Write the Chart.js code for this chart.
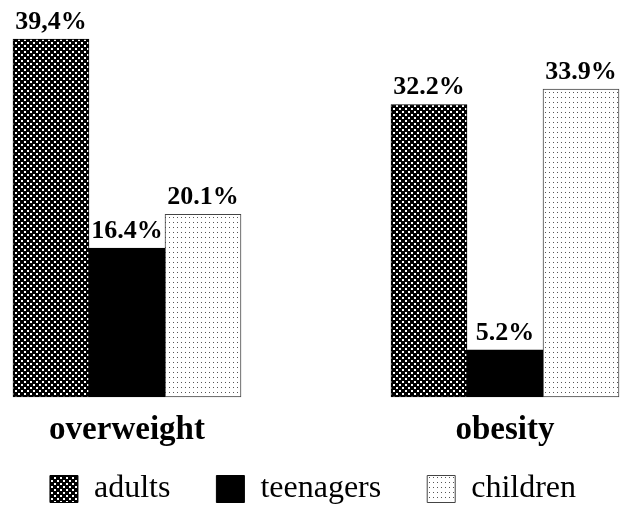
<!DOCTYPE html>
<html>
<head>
<meta charset="utf-8">
<script src="https://cdn.jsdelivr.net/npm/chart.js@4/dist/chart.umd.min.js"></script>
<style>
  html, body { margin: 0; padding: 0; background: #fff; }
  #c { display: block; }
</style>
</head>
<body>
<canvas id="c" width="626" height="515"></canvas>
<script>
// ---- data ----
const categories = ['overweight', 'obesity'];
const seriesNames = ['adults', 'teenagers', 'children'];
const adultsValues = [39.4, 32.2];
const teenagersValues = [16.4, 5.2];
const childrenValues = [20.1, 33.9];
const adultsLabels = ['39,4%', '32.2%'];
const teenagersLabels = ['16.4%', '5.2%'];
const childrenLabels = ['20.1%', '33.9%'];

// ---- patterns ----
function makePattern(w, h, draw) {
  const c = document.createElement('canvas');
  c.width = w; c.height = h;
  const g = c.getContext('2d');
  draw(g);
  return g.createPattern(c, 'repeat');
}
const checkerPattern = makePattern(6, 6, g => {
  g.fillStyle = '#000000'; g.fillRect(0, 0, 6, 6);
  g.fillStyle = '#ffffff'; g.fillRect(3, 0, 2, 2); g.fillRect(0, 3, 2, 2);
});
const dotPattern = makePattern(4, 5, g => {
  g.fillStyle = '#ffffff'; g.fillRect(0, 0, 4, 5);
  g.fillStyle = '#555555'; g.fillRect(1, 2, 1, 1);
});

const serif = '"Liberation Serif", "Times New Roman", serif';

const valueLabelPlugin = {
  id: 'valueLabels',
  afterDatasetsDraw(chart) {
    const ctx = chart.ctx;
    ctx.save();
    ctx.font = 'bold 26px ' + serif;
    ctx.fillStyle = '#000';
    ctx.textAlign = 'center';
    ctx.textBaseline = 'alphabetic';
    chart.data.datasets.forEach((ds, di) => {
      const meta = chart.getDatasetMeta(di);
      meta.data.forEach((bar, i) => {
        ctx.fillText(ds.valueLabels[i], bar.x, bar.y - 10);
      });
    });
    ctx.restore();
  }
};

new Chart(document.getElementById('c'), {
  type: 'bar',
  data: {
    labels: categories,
    datasets: [
      { label: seriesNames[0], data: adultsValues, valueLabels: adultsLabels, clip: false,
        backgroundColor: checkerPattern, borderColor: '#000', borderWidth: 1, borderSkipped: false },
      { label: seriesNames[1], data: teenagersValues, valueLabels: teenagersLabels, clip: false,
        backgroundColor: '#000', borderColor: '#000', borderWidth: 1, borderSkipped: false },
      { label: seriesNames[2], data: childrenValues, valueLabels: childrenLabels, clip: false,
        backgroundColor: dotPattern, borderColor: '#444', borderWidth: 1, borderSkipped: false }
    ]
  },
  options: {
    responsive: false,
    devicePixelRatio: 1,
    animation: false,
    layout: { padding: 0 },
    datasets: { bar: { barThickness: 76 } },
    scales: {
      x: {
        type: 'category',
        offset: false,
        grid: { display: false },
        border: { display: false },
        ticks: {
          color: '#000',
          font: { family: serif, size: 33, weight: 'bold' },
          mirror: true,
          padding: -53,
          maxRotation: 0,
          autoSkip: false
        },
        afterFit: s => { s.height = 30; }
      },
      y: {
        min: 0, max: 43.7,
        position: 'left',
        grid: { display: false },
        border: { display: false },
        ticks: { display: false },
        afterFit: s => { s.width = 127; }
      },
      yR: {
        type: 'linear',
        position: 'right',
        grid: { display: false },
        border: { display: false },
        ticks: { display: false },
        afterFit: s => { s.width = 121; }
      }
    },
    plugins: {
      tooltip: { enabled: false },
      legend: {
        position: 'bottom',
        align: 'center',
        labels: {
          color: '#000',
          font: { family: serif, size: 32 },
          boxWidth: 28,
          boxHeight: 27,
          padding: 46
        }
      }
    }
  },
  plugins: [valueLabelPlugin]
});
</script>
</body>
</html>
